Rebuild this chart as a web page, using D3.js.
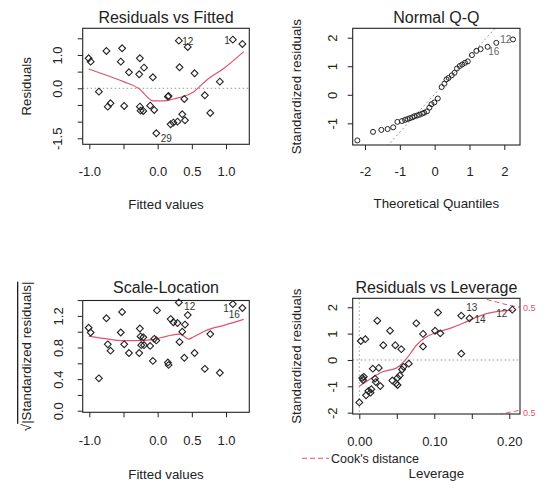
<!DOCTYPE html>
<html><head><meta charset="utf-8">
<script src="https://cdn.jsdelivr.net/npm/d3@7"></script>
<style>
body{margin:0;background:#fff}
svg text{font-family:"Liberation Sans",Arial,sans-serif;fill:#222}
</style>
</head><body>
<svg id="c" width="550" height="491"></svg>
<script>
// ---------- Panel 1: Residuals vs Fitted ----------
const rvfFitted = [-1.01,-0.98,-0.86,-0.75,-0.73,-0.69,-0.54,-0.52,-0.49,-0.42,-0.27,-0.26,-0.26,-0.25,-0.21,-0.20,-0.11,-0.07,-0.05,-0.02,0.15,0.16,0.19,0.23,0.29,0.31,0.32,0.36,0.39,0.40,0.44,0.54,0.69,0.77,0.91,1.10,1.24];
const rvfResid  = [0.90,0.80,-0.10,1.12,-0.55,-0.45,0.80,1.20,-0.53,0.48,0.42,0.90,-0.55,-0.67,-0.68,0.62,-0.52,0.33,-0.65,-1.35,-0.25,-0.23,-1.08,-1.03,-1.00,1.43,0.63,-0.78,-0.32,-0.96,1.24,0.45,-0.21,-0.74,0.20,1.46,1.33];
const rvfSmoothX = [-1.01,-0.79,-0.50,-0.28,-0.06,0.09,0.23,0.53,0.72,0.97,1.26];
const rvfSmoothY = [0.58,0.42,0.20,0.00,-0.38,-0.38,-0.32,-0.10,0.25,0.60,1.10];
const rvfLabText = ['12','1','29'];
const rvfLabX = [0.44,1.015,0.127];
const rvfLabY = [1.40,1.42,-1.52];

// ---------- Panel 2: Normal Q-Q ----------
const qqTheo = [-2.22,-1.77,-1.53,-1.35,-1.19,-1.07,-0.94,-0.85,-0.78,-0.71,-0.64,-0.58,-0.51,-0.44,-0.36,-0.30,-0.22,-0.15,-0.09,-0.01,0.09,0.20,0.28,0.34,0.40,0.49,0.57,0.64,0.72,0.79,0.87,0.95,1.07,1.20,1.32,1.52,1.77,2.25];
const qqStd  = [-1.60,-1.30,-1.23,-1.20,-1.14,-0.95,-0.92,-0.88,-0.85,-0.82,-0.79,-0.75,-0.73,-0.70,-0.66,-0.63,-0.58,-0.45,-0.33,-0.27,-0.13,0.27,0.39,0.54,0.59,0.68,0.77,0.92,1.01,1.06,1.12,1.17,1.39,1.54,1.60,1.68,1.82,1.94];
const qqLineX = [-2.5,2.5];
const qqLineY = [-3.305,3.345];
const qqLabText = ['12','16'];
const qqLabX = [2.04,1.70];
const qqLabY = [1.92,1.53];

// ---------- Panel 3: Scale-Location ----------
const slFitted = [-1.01,-0.98,-0.86,-0.75,-0.73,-0.69,-0.54,-0.52,-0.49,-0.42,-0.27,-0.26,-0.25,-0.24,-0.21,-0.20,-0.11,-0.07,-0.05,-0.02,-0.01,0.15,0.16,0.19,0.23,0.29,0.31,0.32,0.36,0.39,0.40,0.44,0.54,0.69,0.77,0.91,1.10,1.24];
const slSqrtStd = [1.05,0.99,0.41,1.17,0.84,0.76,0.99,1.25,0.84,0.73,0.73,1.04,0.94,0.83,0.93,0.83,0.82,0.63,0.91,0.89,1.27,0.61,0.58,1.16,1.12,1.11,1.37,0.87,1.00,0.67,1.09,1.21,0.73,0.53,0.97,0.48,1.35,1.30];
const slSmoothX = [-1.01,-0.79,-0.50,-0.28,-0.08,0.14,0.33,0.45,0.53,0.72,0.97,1.26];
const slSmoothY = [0.945,0.915,0.886,0.886,0.900,0.945,0.970,0.907,0.937,1.020,1.080,1.156];
const slLabText = ['12','1','16'];
const slLabX = [0.468,1.0,1.12];
const slLabY = [1.32,1.30,1.215];

// ---------- Panel 4: Residuals vs Leverage ----------
const rvlLev = [0.000,0.002,0.008,0.004,0.005,0.006,0.009,0.012,0.015,0.016,0.018,0.021,0.022,0.024,0.026,0.028,0.032,0.041,0.044,0.048,0.049,0.051,0.051,0.054,0.056,0.057,0.059,0.066,0.076,0.085,0.085,0.101,0.105,0.108,0.136,0.136,0.147,0.204];
const rvlStd = [-1.61,0.72,0.79,-0.68,-0.76,-0.64,-1.34,-1.18,-1.24,-1.11,-0.33,-0.71,-0.84,1.49,-0.30,-0.99,0.56,1.11,-0.78,0.56,-0.89,-0.95,-0.68,-0.59,0.41,-0.36,-0.26,-0.14,1.39,0.99,0.51,1.11,1.80,1.01,0.24,1.68,1.58,1.91];
const rvlSmoothX = [0.000,0.014,0.032,0.050,0.063,0.076,0.088,0.103,0.121,0.139,0.150,0.174,0.204];
const rvlSmoothY = [-1.00,-0.73,-0.44,-0.30,0.05,0.55,0.85,1.05,1.20,1.40,1.55,1.79,1.89];
const cookTopX = [0.160,0.172,0.183,0.192,0.201,0.214];
const cookTopY = [2.40,2.28,2.20,2.13,2.07,2.00];
const cookBotX = [0.185,0.192,0.200,0.207,0.214];
const cookBotY = [-2.09,-2.04,-1.99,-1.95,-1.91];
const cookLevelText = ['0.5','0.5'];
const cookLevelY = [1.96,-2.0];
const rvlLabText = ['13','14','12'];
const rvlLabX = [0.150,0.161,0.190];
const rvlLabY = [2.00,1.52,1.77];

// ---------- Tick values and labels ----------
const fitTicks = [-1,-0.5,0,0.5,1];
const fitTickLabels = ['-1.0','','0.0','0.5','1.0'];
const resTicks = [-1.5,-1,-0.5,0,0.5,1,1.5];
const resTickLabels = ['-1.5','','','0.0','','1.0',''];
const qqXTicks = [-2,-1,0,1,2];
const qqXTickLabels = ['-2','-1','0','1','2'];
const qqYTicks = [-1,0,1,2];
const qqYTickLabels = ['-1','0','1','2'];
const slYTicks = [0,0.2,0.4,0.6,0.8,1.0,1.2,1.4];
const slYTickLabels = ['0.0','','0.4','','0.8','','1.2',''];
const levTicks = [0,0.05,0.10,0.15,0.20];
const levTickLabels = ['0.00','','0.10','','0.20'];
const levYTicks = [-2,-1,0,1,2];
const levYTickLabels = ['-2','-1','0','1','2'];

// ---------- drawing ----------
const svg = d3.select('#c');
const RED = '#DF536B';
const INK = '#222';
let clipId = 0;

function panel(cfg){
  const [L,T,R,B] = cfg.box;
  const x = d3.scaleLinear().domain(cfg.xlim).range([L,R]);
  const y = d3.scaleLinear().domain(cfg.ylim).range([B,T]);
  const id = 'clip' + (clipId++);
  svg.append('clipPath').attr('id',id).append('rect')
    .attr('x',L).attr('y',T).attr('width',R-L).attr('height',B-T);
  const g = svg.append('g');
  const inner = g.append('g').attr('clip-path',`url(#${id})`);

  const ax = g.append('g').attr('transform',`translate(0,${B})`)
    .call(d3.axisBottom(x).tickValues(cfg.xt).tickSize(5).tickSizeOuter(0)
      .tickFormat((d,i)=>cfg.xtl[i]));
  ax.select('.domain').remove();
  ax.attr('font-family',null).attr('font-size',null).attr('color',INK);
  ax.selectAll('text').attr('y',cfg.xTickBase).attr('dy',null)
    .style('font-size','13px');

  const ay = g.append('g').attr('transform',`translate(${L},0)`)
    .call(d3.axisLeft(y).tickValues(cfg.yt).tickSize(5).tickSizeOuter(0)
      .tickFormat((d,i)=>cfg.ytl[i]));
  ay.select('.domain').remove();
  ay.attr('font-family',null).attr('font-size',null).attr('color',INK);
  ay.selectAll('text').attr('x',0).attr('dy',null)
    .attr('transform',`translate(${-cfg.yTickOff},0) rotate(-90)`)
    .attr('text-anchor','middle').attr('dominant-baseline','central')
    .style('font-size','13px');

  (cfg.hRef||[]).forEach(v=>{
    inner.append('line').attr('x1',L).attr('x2',R).attr('y1',y(v)).attr('y2',y(v))
      .attr('stroke','#9a9a9a').attr('stroke-width',1).attr('stroke-dasharray','1.5,2.5');
  });
  (cfg.vRef||[]).forEach(v=>{
    inner.append('line').attr('y1',T).attr('y2',B).attr('x1',x(v)).attr('x2',x(v))
      .attr('stroke','#9a9a9a').attr('stroke-width',1).attr('stroke-dasharray','1.5,2.5');
  });

  g.append('rect').attr('x',L).attr('y',T).attr('width',R-L).attr('height',B-T)
    .attr('fill','none').attr('stroke',INK).attr('stroke-width',1.1);

  const cx = (L+R)/2;
  g.append('text').attr('x',cx).attr('y',cfg.titleBase).attr('text-anchor','middle')
    .style('font-size','16px').text(cfg.title);
  g.append('text').attr('x',cx).attr('y',cfg.xlabBase).attr('text-anchor','middle')
    .style('font-size','13.3px').text(cfg.xlab);
  if (cfg.ylab) {
    g.append('text').attr('transform',`translate(${cfg.ylabX},${(T+B)/2}) rotate(-90)`)
      .attr('text-anchor','middle').attr('dominant-baseline','central')
      .style('font-size','13.3px').text(cfg.ylab);
  }
  return {x,y,g,inner};
}

function diamonds(p, xs, ys){
  const r = 3.4;
  p.g.append('g').selectAll('path').data(xs.map((v,i)=>[v,ys[i]])).join('path')
    .attr('d',d=>{const X=p.x(d[0]),Y=p.y(d[1]);
      return `M${X},${Y-r}L${X+r},${Y}L${X},${Y+r}L${X-r},${Y}Z`;})
    .attr('fill','none').attr('stroke',INK).attr('stroke-width',1.1);
}
function curve(p, xs, ys, color, dash, w){
  const line = d3.line().x(d=>p.x(d[0])).y(d=>p.y(d[1])).curve(d3.curveMonotoneX);
  p.inner.append('path').attr('d',line(xs.map((v,i)=>[v,ys[i]])))
    .attr('fill','none').attr('stroke',color).attr('stroke-width',w||1.2)
    .attr('stroke-dasharray',dash||null);
}
function labels(p, t, xs, ys, color){
  p.g.append('g').selectAll('text').data(t).join('text')
    .attr('x',(d,i)=>p.x(xs[i])).attr('y',(d,i)=>p.y(ys[i]))
    .attr('text-anchor','middle').attr('dominant-baseline','central')
    .style('font-size','10px').style('fill',color||'#333').text(d=>d);
}

const p1 = panel({box:[82.7,28.3,249.3,144.3], xlim:[-1.097,1.341], ylim:[-1.68,1.80],
  xt:fitTicks, xtl:fitTickLabels, yt:resTicks, ytl:resTickLabels,
  xTickBase:32, yTickOff:25, hRef:[0],
  title:'Residuals vs Fitted', titleBase:22.7, xlab:'Fitted values', xlabBase:208.5,
  ylab:'Residuals', ylabX:26});
curve(p1, rvfSmoothX, rvfSmoothY, RED);
diamonds(p1, rvfFitted, rvfResid);
labels(p1, rvfLabText, rvfLabX, rvfLabY);

const p2 = panel({box:[352.7,28.3,520,145], xlim:[-2.353,2.45], ylim:[-1.76,2.33],
  xt:qqXTicks, xtl:qqXTickLabels, yt:qqYTicks, ytl:qqYTickLabels,
  xTickBase:31, yTickOff:20, title:'Normal Q-Q', titleBase:22.7,
  xlab:'Theoretical Quantiles', xlabBase:207.5, ylab:'Standardized residuals', ylabX:296});
curve(p2, qqLineX, qqLineY, '#9a9a9a', '2,2.5', 1);
p2.g.append('g').selectAll('circle').data(qqTheo.map((v,i)=>[v,qqStd[i]])).join('circle')
  .attr('cx',d=>p2.x(d[0])).attr('cy',d=>p2.y(d[1])).attr('r',2.5)
  .attr('fill','none').attr('stroke',INK).attr('stroke-width',1);
labels(p2, qqLabText, qqLabX, qqLabY, '#666');

const p3 = panel({box:[82.7,300.5,249.3,412.3], xlim:[-1.097,1.341], ylim:[-0.02,1.395],
  xt:fitTicks, xtl:fitTickLabels, yt:slYTicks, ytl:slYTickLabels,
  xTickBase:33, yTickOff:24.5, title:'Scale-Location', titleBase:293.3,
  xlab:'Fitted values', xlabBase:479, ylab:null});
curve(p3, slSmoothX, slSmoothY, RED);
diamonds(p3, slFitted, slSqrtStd);
labels(p3, slLabText, slLabX, slLabY);
{
  const t = p3.g.append('text').attr('transform',`translate(26,${(300.5+412.3)/2}) rotate(-90)`)
    .attr('text-anchor','middle').attr('dominant-baseline','central').style('font-size','13.3px');
  t.append('tspan').text('\u221A');
  t.append('tspan').style('text-decoration','overline').text('|Standardized residuals|');
}

const p4 = panel({box:[352.7,298.3,520,414], xlim:[-0.0088,0.2143], ylim:[-2.05,2.34],
  xt:levTicks, xtl:levTickLabels, yt:levYTicks, ytl:levYTickLabels,
  xTickBase:32, yTickOff:20, hRef:[0], vRef:[0], title:'Residuals vs Leverage', titleBase:292.5,
  xlab:'Leverage', xlabBase:478, ylab:'Standardized residuals', ylabX:296});
curve(p4, rvlSmoothX, rvlSmoothY, RED);
curve(p4, cookTopX, cookTopY, RED, '5,3', 1);
curve(p4, cookBotX, cookBotY, RED, '5,3', 1);
diamonds(p4, rvlLev, rvlStd);
labels(p4, rvlLabText, rvlLabX, rvlLabY);
p4.g.append('g').selectAll('text').data(cookLevelText).join('text')
  .attr('x',p4.x(p4.x.domain()[1])+3).attr('y',(d,i)=>p4.y(cookLevelY[i]))
  .attr('dominant-baseline','central').style('font-size','9px').style('fill',RED).text(d=>d);
{
  const lg = svg.append('g');
  lg.append('line').attr('x1',302).attr('x2',329).attr('y1',458.3).attr('y2',458.3)
    .attr('stroke',RED).attr('stroke-width',1).attr('stroke-dasharray','5,3');
  lg.append('text').attr('x',331).attr('y',463).style('font-size','12.5px').text("Cook's distance");
}
</script>
</body></html>
